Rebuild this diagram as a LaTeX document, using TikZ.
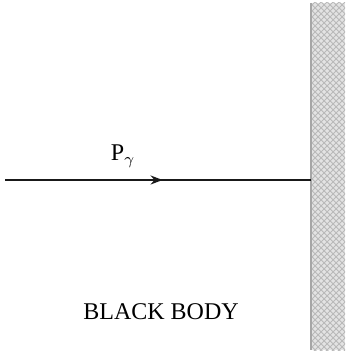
\documentclass[tikz,border=0pt]{standalone}
\usepackage{fontspec}
\setmainfont{Liberation Serif}
\usetikzlibrary{arrows.meta,positioning,calc,decorations.markings,patterns}

\begin{document}
\begin{tikzpicture}[x=0.5pt,y=-0.5pt, font=\fontsize{12}{14}\selectfont,
  wallbox/.style={draw=none, fill=gray!22,
    minimum width=17pt, minimum height=173.5pt, inner sep=0pt, outer sep=0pt},
  ray/.style={line width=1pt, black!90,
    postaction={decorate, decoration={markings,
      mark=at position 0.515 with {\arrow{Stealth[length=6pt,width=4.5pt]}}}}}]
  \useasboundingbox (0,0) rectangle (349,353);
  % wall of the black body
  \node[wallbox] (wall) at (328,176.5) {};
  \fill[pattern=crosshatch, pattern color=gray!55] (wall.south west) rectangle (wall.north east);
  \draw[gray!70, line width=1.4pt] (wall.north west) -- (wall.south west);
  % incoming ray
  \coordinate (src) at (5,180);
  \draw[ray] (src) -- (wall.west |- src);
  \node (plabel) at (123,156) {P$_\gamma$};
  \node (body) at (161,312) {BLACK BODY};
\end{tikzpicture}
\end{document}
